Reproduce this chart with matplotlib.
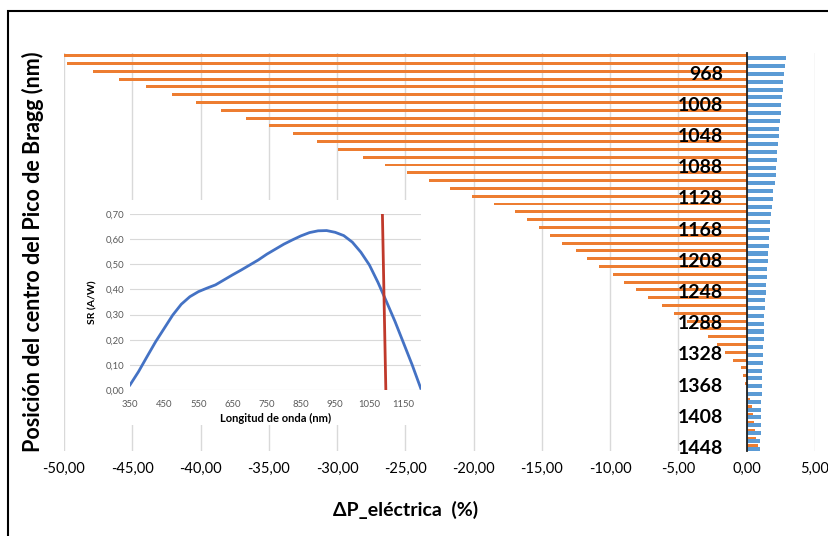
import matplotlib
matplotlib.use('Agg')
import matplotlib.pyplot as plt
from matplotlib.patches import Rectangle
from matplotlib.ticker import FuncFormatter

plt.rcParams['font.family'] = ['Lato', 'DejaVu Sans']

# posicion del pico de Bragg (nm), de arriba a abajo
bragg = list(range(948, 1449, 10))

# variacion de potencia electrica (%)
dp_naranja = [-50.0, -49.8, -47.9, -46.0, -44.0, -42.1, -40.3, -38.5, -36.7, -35.0,
              -33.2, -31.5, -29.9, -28.1, -26.5, -24.9, -23.3, -21.7, -20.1, -18.5,
              -17.0, -16.1, -15.2, -14.4, -13.5, -12.5, -11.7, -10.8, -9.8, -9.0,
              -8.1, -7.2, -6.2, -5.3, -4.4, -3.4, -2.8, -2.2, -1.6, -1.0,
              -0.4, -0.3, -0.1, 0.0, 0.25, 0.38, 0.47, 0.52, 0.62, 0.68, 0.85]
dp_azul = [2.85, 2.78, 2.73, 2.68, 2.63, 2.58, 2.54, 2.49, 2.44, 2.39,
           2.34, 2.29, 2.24, 2.20, 2.16, 2.12, 2.05, 1.95, 1.90, 1.82,
           1.77, 1.73, 1.68, 1.63, 1.60, 1.56, 1.53, 1.48, 1.46, 1.41,
           1.38, 1.34, 1.31, 1.29, 1.27, 1.25, 1.23, 1.21, 1.19, 1.17,
           1.15, 1.13, 1.12, 1.10, 1.08, 1.07, 1.05, 1.03, 1.02, 1.00, 0.98]
etiquetas_y = list(range(968, 1449, 40))

# respuesta espectral de la celula (inset)
longitud = [350, 375, 400, 425, 450, 475, 500, 525, 550, 575, 600, 625, 650, 675,
            700, 725, 750, 775, 800, 825, 850, 875, 900, 925, 950, 975, 1000,
            1025, 1050, 1075, 1100, 1125, 1150, 1175, 1200]
sr = [0.02, 0.073, 0.133, 0.192, 0.245, 0.298, 0.341, 0.371, 0.391, 0.405, 0.418,
      0.438, 0.458, 0.477, 0.497, 0.517, 0.54, 0.56, 0.58, 0.597, 0.613, 0.626,
      0.633, 0.634, 0.627, 0.614, 0.588, 0.548, 0.497, 0.428, 0.351, 0.272,
      0.186, 0.10, 0.007]
linea_roja_x = [1088, 1098]
linea_roja_y = [0.70, 0.0]


def coma(v, pos):
    return ('%.2f' % v).replace('.', ',')


fig = plt.figure(figsize=(8.29, 5.36), dpi=100)
ax = fig.add_axes([0.0772, 0.1586, 0.9059, 0.7425])

idx = list(range(len(bragg)))
ax.barh([i - 0.15 for i in idx], dp_naranja, height=0.38, color='#ED7D31', zorder=2)
ax.barh([i + 0.19 for i in idx], dp_azul, height=0.52, color='#5B9BD5', zorder=2)

for s in ['top', 'right', 'bottom']:
    ax.spines[s].set_visible(False)
ax.spines['left'].set_position(('data', 0))
ax.spines['left'].set_color('#1F1F1F')
ax.spines['left'].set_linewidth(1.3)
ax.spines['left'].set_zorder(3)

ax.set_xlim(-50, 5)
ax.set_ylim(len(bragg) - 0.5, -0.5)
ax.tick_params(axis='y', length=0, pad=17)
ax.tick_params(axis='x', length=0, pad=8, labelsize=10.5)
ax.set_xticks(range(-50, 6, 5))
ax.xaxis.set_major_formatter(FuncFormatter(coma))
ax.set_yticks([bragg.index(b) for b in etiquetas_y])
ax.set_yticklabels([str(b) for b in etiquetas_y], fontsize=14, fontweight='bold')
ax.grid(axis='x', color='#D9D9D9', lw=1)
ax.xaxis.set_zorder(0.5)
ax.yaxis.set_zorder(3)

fig.text(0.489, 0.048, 'ΔP_eléctrica  (%)', ha='center', va='center', fontsize=14, fontweight='bold')
fig.text(0.040, 0.53, 'Posición del centro del Pico de Bragg (nm)', rotation=90,
         ha='center', va='center', fontsize=15.5, fontweight='bold')

# fondo blanco del inset
fig.add_artist(Rectangle((0.0844, 0.2071), 0.4295, 0.4198, transform=fig.transFigure,
                         facecolor='white', edgecolor='none', zorder=1.5))

axi = fig.add_axes([0.1568, 0.2724, 0.3507, 0.3284])
axi.set_zorder(2)
axi.plot(longitud, sr, color='#4472C4', lw=2)
axi.plot(linea_roja_x, linea_roja_y, color='#C0392B', lw=2)
axi.set_xlim(350, 1200)
axi.set_ylim(0, 0.70)
axi.set_xticks(range(350, 1151, 100))
axi.set_yticks([0.1 * k for k in range(8)])
axi.yaxis.set_major_formatter(FuncFormatter(coma))
axi.grid(axis='y', color='#D9D9D9', lw=0.8)
axi.set_axisbelow(True)
axi.tick_params(length=0, labelsize=6.8, labelcolor='#595959', pad=4)
axi.tick_params(axis='x', pad=7)
for s in axi.spines.values():
    s.set_visible(False)
axi.set_xlabel('Longitud de onda (nm)', fontsize=8, fontweight='bold', labelpad=3)
axi.set_ylabel('SR (A/W)', fontsize=7.5, fontweight='bold', labelpad=6)

# marco del grafico
fig.add_artist(Rectangle((8 / 829, -0.1), 1.2, 1.1 - 11 / 536, transform=fig.transFigure,
                         facecolor='none', edgecolor='black', lw=1.5, zorder=5))

fig.savefig('out.png', dpi=100)
